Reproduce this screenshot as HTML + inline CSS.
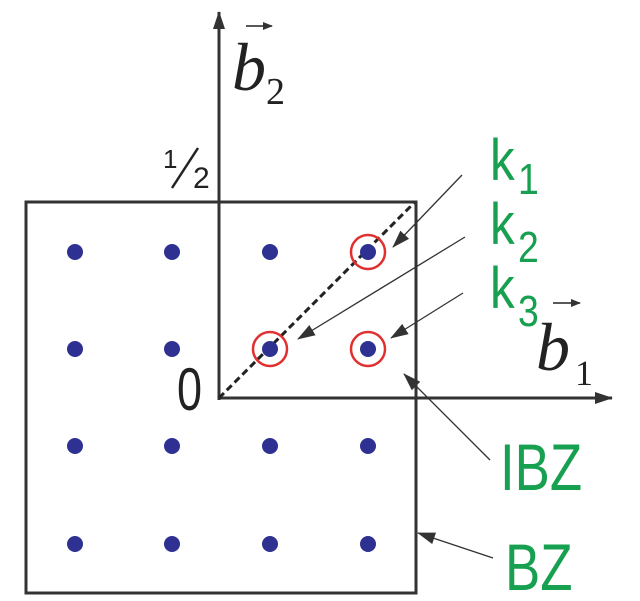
<!DOCTYPE html>
<html><head><style>body{margin:0;background:#fff}svg{display:block}</style></head>
<body>
<svg width="640" height="601" viewBox="0 0 640 601" xmlns="http://www.w3.org/2000/svg">
<defs>
<marker id="a" markerWidth="10" markerHeight="8" refX="9" refY="4" orient="auto" markerUnits="userSpaceOnUse"><path d="M0,0 L10,4 L0,8 z" fill="#333"/></marker>
<marker id="b" markerWidth="18" markerHeight="12" refX="17" refY="6" orient="auto" markerUnits="userSpaceOnUse"><path d="M0,0 L18,6 L0,12 z" fill="#333"/></marker>
</defs>
<rect x="26" y="202" width="390" height="391" fill="none" stroke="#333" stroke-width="3"/>
<line x1="219" y1="400" x2="219" y2="12" stroke="#333" stroke-width="3" marker-end="url(#b)"/>
<line x1="219" y1="398" x2="612" y2="398" stroke="#333" stroke-width="3" marker-end="url(#b)"/>
<line x1="219" y1="398" x2="414" y2="203" stroke="#222" stroke-width="3" stroke-dasharray="7,4"/>
<g fill="#2e3192">
<circle cx="75" cy="252" r="8"/><circle cx="172" cy="252" r="8"/><circle cx="270" cy="252" r="8"/><circle cx="368" cy="252" r="8"/>
<circle cx="75" cy="349" r="8"/><circle cx="172" cy="349" r="8"/><circle cx="270" cy="349" r="8"/><circle cx="368" cy="349" r="8"/>
<circle cx="75" cy="446" r="8"/><circle cx="172" cy="446" r="8"/><circle cx="270" cy="446" r="8"/><circle cx="368" cy="446" r="8"/>
<circle cx="75" cy="544" r="8"/><circle cx="172" cy="544" r="8"/><circle cx="270" cy="544" r="8"/><circle cx="368" cy="544" r="8"/>
</g>
<g fill="none" stroke="#e03030" stroke-width="2.5">
<circle cx="368" cy="252" r="17"/><circle cx="270" cy="349" r="17"/><circle cx="368" cy="349" r="17"/>
</g>
<g stroke="#333" stroke-width="1.3" fill="none">
<line x1="462" y1="175" x2="393" y2="247" marker-end="url(#b)"/>
<line x1="465" y1="237" x2="298" y2="339" marker-end="url(#b)"/>
<line x1="463" y1="293" x2="391" y2="338" marker-end="url(#b)"/>
<line x1="490" y1="460" x2="404" y2="374" marker-end="url(#b)"/>
<line x1="493" y1="558" x2="418" y2="533" marker-end="url(#b)"/>
</g>
<g font-family="Liberation Sans, sans-serif" fill="#16a050">
<text x="490" y="180" font-size="58" transform="translate(490 0) scale(0.85 1) translate(-490 0)">k<tspan font-size="44" dy="14" dx="4">1</tspan></text>
<text x="490" y="244" font-size="58" transform="translate(490 0) scale(0.85 1) translate(-490 0)">k<tspan font-size="44" dy="18" dx="4">2</tspan></text>
<text x="490" y="308" font-size="58" transform="translate(490 0) scale(0.85 1) translate(-490 0)">k<tspan font-size="44" dy="18" dx="4">3</tspan></text>
<text x="500" y="490" font-size="66" transform="translate(500 0) scale(0.8 1) translate(-500 0)">IBZ</text>
<text x="505" y="590" font-size="66" transform="translate(505 0) scale(0.8 1) translate(-505 0)">BZ</text>
</g>
<g fill="#222">
<text x="177" y="410" font-family="Liberation Sans, sans-serif" font-size="60" transform="translate(177 0) scale(0.75 1) translate(-177 0)">0</text>
<text x="163" y="168" font-family="Liberation Sans, sans-serif" font-size="26">1</text>
<line x1="172" y1="188" x2="198" y2="148" stroke="#222" stroke-width="2.5"/>
<text x="193" y="188" font-family="Liberation Sans, sans-serif" font-size="30">2</text>
<text x="232" y="90" font-family="Liberation Serif, serif" font-style="italic" font-size="68">b</text>
<text x="266" y="104" font-family="Liberation Serif, serif" font-size="38">2</text>
<line x1="246" y1="26" x2="272" y2="26" stroke="#222" stroke-width="1.5" marker-end="url(#a)"/>
<text x="536" y="370" font-family="Liberation Serif, serif" font-style="italic" font-size="68">b</text>
<text x="575" y="385" font-family="Liberation Serif, serif" font-size="36">1</text>
<line x1="553" y1="303" x2="580" y2="303" stroke="#222" stroke-width="1.5" marker-end="url(#a)"/>
</g>
</svg>
</body></html>
